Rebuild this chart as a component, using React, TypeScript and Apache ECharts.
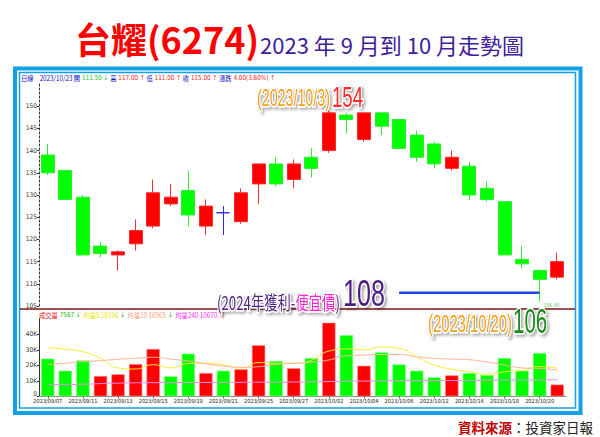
import { useEffect, useRef } from "react";
import * as echarts from "echarts";

const dates = [
  "2023/09/07", "2023/09/08", "2023/09/11", "2023/09/12", "2023/09/13", "2023/09/14",
  "2023/09/15", "2023/09/18", "2023/09/19", "2023/09/20", "2023/09/21", "2023/09/22",
  "2023/09/25", "2023/09/26", "2023/09/27", "2023/09/28", "2023/10/02", "2023/10/03",
  "2023/10/04", "2023/10/05", "2023/10/06", "2023/10/11", "2023/10/12", "2023/10/13",
  "2023/10/16", "2023/10/17", "2023/10/18", "2023/10/19", "2023/10/20", "2023/10/23",
];
const openP = [139, 135.5, 129.5, 118.5, 116.5, 119, 123, 128, 131, 123, 126, 124, 132.5, 137, 133.5, 138.5, 140, 148, 142.5, 148.5, 147, 143.5, 141.5, 136, 136.5, 131.5, 128.5, 115.5, 113, 111.5];
const closeP = [135, 129, 116.5, 116.8, 117.2, 122, 130.5, 129.5, 125.5, 127.5, 126, 130.5, 137, 132.5, 137, 136, 148.5, 147, 148.5, 145.5, 140.5, 138.5, 137, 138.5, 130, 129, 116.5, 114.5, 111, 115];
const lowP = [134.5, 129, 116.5, 116, 113, 117.5, 122.5, 127.5, 123, 121, 121, 123.5, 128, 132, 131.5, 134, 139.5, 144, 142, 143.5, 140.5, 137.5, 136, 135.5, 129, 128.5, 116.5, 113.5, 106, 111];
const highP = [141.5, 135.5, 130, 119.5, 117.5, 124.5, 133.5, 132.5, 135.5, 129, 127.5, 131.5, 137, 138.5, 138, 140.5, 149, 148.5, 148.5, 148.5, 147, 144.5, 142, 140, 137.5, 133, 128.5, 118.5, 113, 117];
const volumes = [24300, 16500, 23200, 13100, 14200, 20800, 30500, 12900, 27500, 15000, 16500, 17400, 32900, 22800, 18100, 24700, 47500, 39500, 19700, 28400, 20600, 16500, 12200, 13500, 15000, 13700, 24700, 16500, 27900, 7567];
const ma5 = [31400, 30300, 28800, 24500, 18300, 17600, 20400, 18300, 21200, 21300, 20300, 18200, 21800, 21300, 21300, 23200, 29200, 30500, 29900, 31800, 31000, 25500, 20200, 17500, 15800, 14200, 15800, 16700, 19200, 18196];
const ma10 = [20600, 21300, 22400, 23000, 23900, 24500, 25200, 24000, 22800, 21000, 19500, 18700, 19100, 20600, 21300, 22000, 23400, 26200, 26600, 27000, 27000, 25500, 24500, 24000, 23600, 22100, 20200, 18300, 18000, 16965];
const ma240 = [7700, 7700, 7800, 8200, 8500, 8700, 8800, 8800, 8900, 8900, 9000, 9000, 9100, 9100, 9200, 9300, 9500, 9700, 9800, 9900, 10000, 10100, 10200, 10200, 10300, 10400, 10400, 10500, 10600, 10670];
const cheapPrice = 108;
const cheapFrom = "2023/10/06";
const cheapTo = "2023/10/20";
const lowMarkDate = "2023/10/20";
const lowMarkPrice = 106;

const NARROW = "'Liberation Sans Narrow', 'DejaVu Sans Condensed', 'Liberation Sans', sans-serif";
const CJK = "'Noto Sans CJK TC', 'Noto Sans', sans-serif";
const LAT = "'Liberation Sans', Arial, sans-serif";

const glow = {
  stroke: "#ffffff",
  lineWidth: 3,
  textShadowColor: "rgba(0,0,0,0.35)",
  textShadowBlur: 3,
  textShadowOffsetX: 2,
  textShadowOffsetY: 2,
};

export default function App() {
  const ref = useRef<HTMLDivElement>(null);
  useEffect(() => {
    const chart = echarts.init(ref.current!, null, { renderer: "svg" });
    const candleData = dates.map((_, i) => {
      const item: any = { value: [openP[i], closeP[i], lowP[i], highP[i]] };
      if (openP[i] === closeP[i]) {
        item.itemStyle = { color: "#0000ff", color0: "#0000ff", borderColor: "#2a2aff", borderColor0: "#2a2aff" };
      }
      return item;
    });
    const volData = volumes.map((v, i) => {
      const prev = i > 0 ? closeP[i - 1] : openP[i];
      const up = closeP[i] > prev;
      return {
        value: v,
        itemStyle: { color: up ? "#ff0000" : "#00ff00", borderColor: up ? "#ff8a8a" : "#8aff8a", borderWidth: 0.6 },
      };
    });

    const option: any = {
      animation: false,
      backgroundColor: "#ffffff",
      grid: [
        { left: 39, top: 84, width: 527, height: 222 },
        { left: 39, top: 318.8, width: 527, height: 77.5 },
      ],
      xAxis: [
        {
          type: "category", data: dates, gridIndex: 0, boundaryGap: true,
          axisLine: { show: false }, axisTick: { show: false }, axisLabel: { show: false }, splitLine: { show: false },
        },
        {
          type: "category", data: dates, gridIndex: 1, boundaryGap: true,
          axisLine: { lineStyle: { color: "#888888", width: 1 } },
          axisTick: { show: true, interval: 1, alignWithLabel: true, length: 2, lineStyle: { color: "#555" } },
          axisLabel: { interval: 1, fontSize: 5.6, color: "#222", margin: 2, fontFamily: NARROW },
          splitLine: { show: false },
        },
      ],
      yAxis: [
        {
          type: "value", gridIndex: 0, min: 105, max: 155, interval: 5,
          axisLine: { show: true, lineStyle: { color: "#333", type: [2, 2], width: 1 } },
          axisTick: { show: true, length: 2, lineStyle: { color: "#333" } },
          axisLabel: { fontSize: 6.5, color: "#333", margin: 2, showMaxLabel: false, fontFamily: NARROW },
          splitLine: { show: false },
        },
        {
          type: "value", gridIndex: 1, min: 0, max: 50000, interval: 10000,
          axisLine: { show: true, lineStyle: { color: "#333", width: 1 } },
          axisTick: { show: true, length: 2, lineStyle: { color: "#333" } },
          axisLabel: {
            fontSize: 6.5, color: "#333", margin: 2, showMaxLabel: false, fontFamily: NARROW,
            formatter: (v: number) => (v === 0 ? "{z|0}" : v / 1000 + "K"),
            rich: { z: { fontSize: 6.5, fontFamily: NARROW, color: "#333", padding: [0, 0, 5, 0] } },
          },
          splitLine: { show: false },
        },
      ],
      series: [
        {
          type: "candlestick", xAxisIndex: 0, yAxisIndex: 0, data: candleData, barWidth: 13.5,
          itemStyle: { color: "#ff0000", color0: "#00ff00", borderColor: "#ff2a2a", borderColor0: "#2aee2a", borderWidth: 1 },
        },
        {
          type: "line", xAxisIndex: 0, yAxisIndex: 0, symbol: "none", silent: true, z: 5,
          data: [[cheapFrom, cheapPrice], [cheapTo, cheapPrice]],
          lineStyle: { color: "#2444e6", width: 2.5 },
        },
        {
          type: "scatter", xAxisIndex: 0, yAxisIndex: 0, symbolSize: 0, silent: true,
          data: [[lowMarkDate, lowMarkPrice]],
          label: { show: true, formatter: "106.00", position: "right", distance: 4, offset: [0, 3], fontSize: 5, color: "#1aa01a", fontFamily: NARROW },
        },
        { type: "bar", xAxisIndex: 1, yAxisIndex: 1, data: volData, barWidth: 13.3 },
        { type: "line", xAxisIndex: 1, yAxisIndex: 1, data: ma5, smooth: true, symbol: "none", lineStyle: { color: "#f5ee30", width: 1 } },
        { type: "line", xAxisIndex: 1, yAxisIndex: 1, data: ma10, smooth: true, symbol: "none", lineStyle: { color: "#ffb496", width: 1 } },
        { type: "line", xAxisIndex: 1, yAxisIndex: 1, data: ma240, smooth: true, symbol: "none", lineStyle: { color: "#f08cf0", width: 1 } },
      ],
      graphic: [
        // frame
        { type: "rect", shape: { x: 15, y: 68.5, width: 565.5, height: 344.5 }, style: { fill: "none", stroke: "#13a1e6", lineWidth: 4 }, silent: true },
        { type: "rect", shape: { x: 19.5, y: 72.5, width: 556, height: 335.5 }, style: { fill: "none", stroke: "#13a1e6", lineWidth: 1.5 }, silent: true },
        { type: "line", shape: { x1: 20, y1: 309, x2: 575, y2: 309 }, style: { stroke: "#7a1414", lineWidth: 1.5 }, silent: true },
        // title
        { type: "text", x: 75, y: 38, style: { text: "台耀(6274)", fill: "#ff0000", fontSize: 36, fontWeight: "bold", fontFamily: CJK, verticalAlign: "middle", align: "left" } },
        { type: "text", x: 260, y: 44, style: { text: "2023 年 9 月到 10 月走勢圖", fill: "#40209a", fontSize: 22, fontFamily: CJK, verticalAlign: "middle", align: "left" } },
        // info line
        {
          type: "text", x: 21, y: 78, scaleX: 0.9,
          style: {
            text: "{b|日線}   {b|2023/10/23 開}{g|111.50 ↓}{b|高}{r|117.00 ↑}{b|低}{r|111.00 ↑}{b|收}{r|115.00 ↑}{b|漲跌}{r|4.00(3.60%) ↑}",
            fontSize: 7, fontFamily: CJK, verticalAlign: "middle", align: "left",
            rich: {
              b: { fill: "#1010c0", fontSize: 7, fontFamily: CJK, padding: [0, 2, 0, 0] },
              g: { fill: "#22bb22", fontSize: 7, fontFamily: NARROW, padding: [0, 2, 0, 0] },
              r: { fill: "#ee2020", fontSize: 7, fontFamily: NARROW, padding: [0, 2, 0, 0] },
            },
          },
        },
        // volume legend
        {
          type: "text", x: 39, y: 315, scaleX: 0.9,
          style: {
            text: "{r|成交量}{g|7567 ↓}{y|均量5 18196}{g|↓}{s|均量10 16965}{g|↓}{m|均量240 10670}{r|↑}",
            fontSize: 7, fontFamily: CJK, verticalAlign: "middle", align: "left",
            rich: {
              r: { fill: "#ee1010", fontSize: 7, fontFamily: CJK, padding: [0, 2, 0, 0] },
              g: { fill: "#22bb22", fontSize: 7, fontFamily: NARROW, padding: [0, 3, 0, 0] },
              y: { fill: "#e6e600", fontSize: 7, fontFamily: CJK, padding: [0, 2, 0, 0] },
              s: { fill: "#ff9a7a", fontSize: 7, fontFamily: CJK, padding: [0, 2, 0, 0] },
              m: { fill: "#ff30ff", fontSize: 7, fontFamily: CJK, padding: [0, 3, 0, 0] },
            },
          },
        },
        // annotations
        { type: "text", x: 257, y: 98.5, scaleX: 0.62, style: { text: "(2023/10/3)", fill: "#f5a01a", fontSize: 23, fontFamily: LAT, verticalAlign: "middle", align: "left", ...glow } },
        { type: "text", x: 332, y: 96, scaleX: 0.62, style: { text: "154", fill: "#ff2a2a", fontSize: 30, fontFamily: LAT, verticalAlign: "middle", align: "left", ...glow } },
        {
          type: "text", x: 217, y: 301.5, scaleX: 0.7,
          style: {
            text: "{p|(2024年獲利-}{m|便宜價}{p|)}", fontSize: 19, fontFamily: CJK, verticalAlign: "middle", align: "left", ...glow,
            rich: {
              p: { fill: "#4f2484", fontSize: 19, fontFamily: CJK, ...glow },
              m: { fill: "#ff20d2", fontSize: 19, fontFamily: CJK, ...glow },
            },
          },
        },
        { type: "text", x: 343, y: 293.5, scaleX: 0.68, style: { text: "108", fill: "#4b1f84", fontSize: 37, fontFamily: LAT, verticalAlign: "middle", align: "left", ...glow } },
        { type: "text", x: 428, y: 324, scaleX: 0.644, style: { text: "(2023/10/20)", fill: "#f5a01a", fontSize: 23, fontFamily: LAT, verticalAlign: "middle", align: "left", ...glow } },
        { type: "text", x: 513, y: 320, scaleX: 0.57, style: { text: "106", fill: "#1a8a1a", fontSize: 36, fontFamily: LAT, verticalAlign: "middle", align: "left", ...glow } },
        // source
        {
          type: "text", x: 593, y: 427,
          style: {
            text: "{a|資料來源}{b|：投資家日報}", fontSize: 13.5, fontFamily: CJK, verticalAlign: "middle", align: "right",
            rich: {
              a: { fill: "#c00000", fontSize: 13.5, fontWeight: "bold", fontFamily: CJK },
              b: { fill: "#222222", fontSize: 13.5, fontFamily: CJK },
            },
          },
        },
      ],
    };
    chart.setOption(option);
    return () => chart.dispose();
  }, []);
  return <div ref={ref} style={{ position: "absolute", left: 0, top: 0, width: 600, height: 437 }} />;
}
